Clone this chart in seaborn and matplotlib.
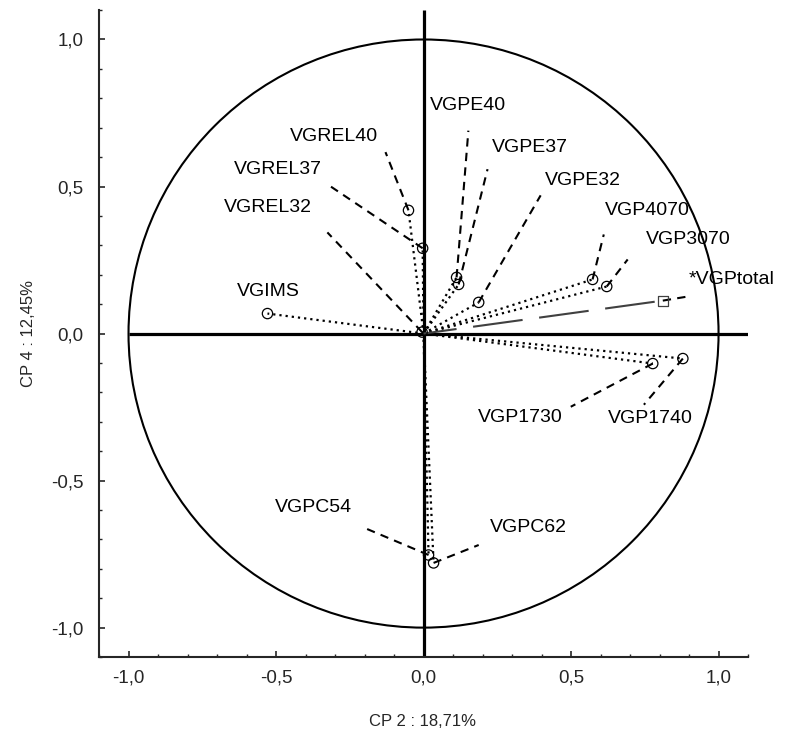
import numpy as np
import pandas as pd
import matplotlib
matplotlib.use("Agg")
import matplotlib.pyplot as plt
from matplotlib.ticker import MultipleLocator, FuncFormatter
from matplotlib.patches import Circle
import seaborn as sns

# ---- data (loadings on CP2 / CP4) ----
variables = ["VGIMS", "VGREL40", "VGREL37", "VGREL32", "VGPE40", "VGPE37", "VGPE32",
             "VGP4070", "VGP3070", "VGP1740", "VGP1730", "VGPC54", "VGPC62"]
cp2 = [-0.529, -0.051, -0.003, -0.005, 0.112, 0.119, 0.187,
       0.573, 0.621, 0.879, 0.777, 0.017, 0.034]
cp4 = [0.068, 0.419, 0.290, 0.005, 0.191, 0.167, 0.106,
       0.184, 0.160, -0.085, -0.102, -0.753, -0.780]

supp_var = ["*VGPtotal"]
supp_cp2 = [0.811]
supp_cp4 = [0.112]

x_title = "CP 2 : 18,71%"
y_title = "CP 4 : 12,45%"
tick_values = [-1.0, -0.5, 0.0, 0.5, 1.0]

# ---- label layout (positions of text and end of leader lines) ----
label_xy = {
    "VGIMS": (-0.526, 0.143), "VGREL40": (-0.305, 0.671), "VGREL37": (-0.492, 0.559),
    "VGREL32": (-0.526, 0.429), "VGPE40": (0.149, 0.777), "VGPE37": (0.360, 0.634),
    "VGPE32": (0.540, 0.521), "VGP4070": (0.760, 0.420), "VGP3070": (0.896, 0.320),
    "VGP1740": (0.770, -0.290), "VGP1730": (0.329, -0.286), "VGPC54": (-0.373, -0.593),
    "VGPC62": (0.356, -0.661),
}
leader_end = {
    "VGREL40": (-0.129, 0.617), "VGREL37": (-0.316, 0.501), "VGREL32": (-0.326, 0.344),
    "VGPE40": (0.152, 0.690), "VGPE37": (0.217, 0.559), "VGPE32": (0.397, 0.470),
    "VGP4070": (0.611, 0.337), "VGP3070": (0.692, 0.252), "VGP1740": (0.747, -0.242),
    "VGP1730": (0.499, -0.249), "VGPC54": (-0.200, -0.661), "VGPC62": (0.187, -0.719),
}
supp_label_xy = (0.900, 0.184)
supp_leader_end = (0.896, 0.126)

sns.set_style("ticks")
plt.rcParams["font.family"] = ["Liberation Sans", "DejaVu Sans"]

fig = plt.figure(figsize=(7.89, 7.36), dpi=100)
ax = fig.add_axes([0.1255, 0.1073, 0.8226, 0.879])

# unit circle and central axes
ax.add_patch(Circle((0, 0), 1.0, fill=False, lw=1.5, color="black", zorder=2))
ax.plot([-1.0, 1.1], [0, 0], color="black", lw=2.3, zorder=2, solid_capstyle="butt")
ax.plot([0, 0], [-1.1, 1.1], color="black", lw=2.3, zorder=2, solid_capstyle="butt")

# dotted vectors from origin to each variable
rows = []
for v, x, y in zip(variables, cp2, cp4):
    rows.append({"var": v, "x": 0.0, "y": 0.0})
    rows.append({"var": v, "x": x, "y": y})
vec = pd.DataFrame(rows)
sns.lineplot(data=vec, x="x", y="y", units="var", estimator=None, sort=False,
             color="black", lw=1.6, linestyle=(0, (1, 1.8)), ax=ax, zorder=3)

# leader lines
lrows = []
for v, x, y in zip(variables, cp2, cp4):
    if v in leader_end:
        ex, ey = leader_end[v]
        lrows.append({"var": v, "x": x, "y": y})
        lrows.append({"var": v, "x": ex, "y": ey})
lrows.append({"var": "supp", "x": supp_cp2[0], "y": supp_cp4[0]})
lrows.append({"var": "supp", "x": supp_leader_end[0], "y": supp_leader_end[1]})
lead = pd.DataFrame(lrows)
sns.lineplot(data=lead, x="x", y="y", units="var", estimator=None, sort=False,
             color="black", lw=1.5, linestyle=(0, (4, 3)), ax=ax, zorder=3)

# supplementary vector
supp = pd.DataFrame({"x": [0.0, supp_cp2[0]], "y": [0.0, supp_cp4[0]]})
sns.lineplot(data=supp, x="x", y="y", estimator=None, sort=False, color="#404040",
             lw=1.5, linestyle=(8, (24, 8)), ax=ax, zorder=3)

# markers
pts = pd.DataFrame({"x": cp2, "y": cp4, "var": variables})
sns.scatterplot(data=pts, x="x", y="y", marker="o", s=55, facecolor="none",
                edgecolor="black", linewidth=0.9, ax=ax, zorder=4)
sp = pd.DataFrame({"x": supp_cp2, "y": supp_cp4})
sns.scatterplot(data=sp, x="x", y="y", marker="s", s=50, facecolor="none",
                edgecolor="#404040", linewidth=0.9, ax=ax, zorder=4)

# labels
for v in variables:
    lx, ly = label_xy[v]
    ax.text(lx, ly, v, ha="center", va="center", fontsize=14, color="black")
ax.text(supp_label_xy[0], supp_label_xy[1], supp_var[0], ha="left", va="center",
        fontsize=14, color="black")

# axes formatting
ax.set_xlim(-1.1, 1.1)
ax.set_ylim(-1.1, 1.1)
ax.set_xticks(tick_values)
ax.set_yticks(tick_values)
ax.xaxis.set_minor_locator(MultipleLocator(0.1))
ax.yaxis.set_minor_locator(MultipleLocator(0.1))
fmt = FuncFormatter(lambda v, p: ("%.1f" % (0.0 if abs(v) < 1e-9 else v)).replace(".", ","))
ax.xaxis.set_major_formatter(fmt)
ax.yaxis.set_major_formatter(fmt)
ax.tick_params(which="major", direction="in", length=4, width=1.2, labelsize=13.5)
ax.tick_params(axis="x", which="major", pad=9)
ax.tick_params(axis="y", which="major", pad=11)
ax.tick_params(which="minor", direction="in", length=2.5, width=1.0)
for s in ["top", "right"]:
    ax.spines[s].set_visible(False)
for s in ["left", "bottom"]:
    ax.spines[s].set_linewidth(1.5)
ax.set_xlabel(x_title, fontsize=12)
ax.set_ylabel(y_title, fontsize=12)
ax.xaxis.set_label_coords(0.499, -0.088)
ax.yaxis.set_label_coords(-0.097, 0.5)
ax.set_facecolor("white")
fig.patch.set_facecolor("white")

fig.savefig("out.png", dpi=100)
